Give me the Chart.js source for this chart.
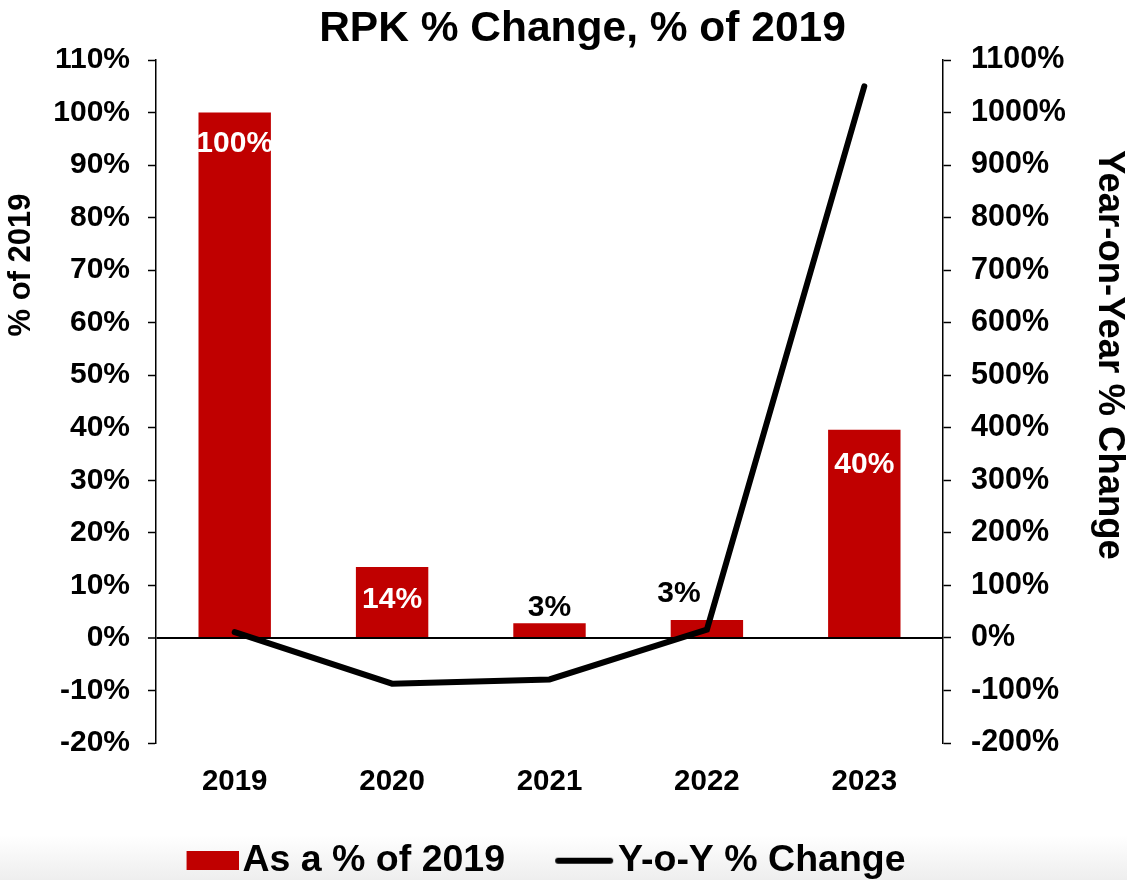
<!DOCTYPE html>
<html>
<head>
<meta charset="utf-8">
<script src="https://cdn.jsdelivr.net/npm/chart.js@4.4.1/dist/chart.umd.min.js"></script>
<style>
  html, body { margin: 0; padding: 0; }
  body { width: 1127px; height: 880px; background: linear-gradient(to bottom, #ffffff 0px, #ffffff 835px, #eeeeee 880px); overflow: hidden; }
  #wrap { position: relative; width: 1127px; height: 880px; }
</style>
</head>
<body>
<div id="wrap"><canvas id="c" width="1127" height="880"></canvas></div>
<script>
// ---- Data ----
const categories = ['2019', '2020', '2021', '2022', '2023'];
const pctOf2019 = [100, 13.5, 2.8, 3.4, 39.6];       // As a % of 2019 (left axis)
const yoyChange = [11, -87, -79, 16, 1050];          // Y-o-Y % Change (right axis)
const leftAxisRange = [-20, 110];
const rightAxisRange = [-200, 1100];
const seriesNames = ['As a % of 2019', 'Y-o-Y % Change'];
const chartTitle = 'RPK % Change, % of 2019';
const leftAxisTitle = '% of 2019';
const rightAxisTitle = 'Year-on-Year % Change';

const FONT = "'Liberation Sans', Arial, Helvetica, sans-serif";
const BAR_COLOR = '#C00000';

// label placement style for each bar (style only, not data)
const barLabelStyle = [
  { color: '#ffffff', dy: 31, dx: 0 },
  { color: '#ffffff', dy: 33, dx: 0 },
  { color: '#000000', dy: -15, dx: 0 },
  { color: '#000000', dy: -26, dx: -28 },
  { color: '#ffffff', dy: 35, dx: 0 }
];

// legend marker images (content sits at right side so it hugs the text)
function makeMarker(w, h, draw) {
  const c = document.createElement('canvas');
  c.width = w; c.height = h;
  draw(c.getContext('2d'), w, h);
  return c;
}
const barMarker = makeMarker(82, 19, (g, w, h) => { g.fillStyle = BAR_COLOR; g.fillRect(30, 0, 52, h); });
const lineMarker = makeMarker(82, 8, (g, w, h) => {
  g.strokeStyle = '#000'; g.lineWidth = 6; g.lineCap = 'round';
  g.beginPath(); g.moveTo(26, h / 2); g.lineTo(78, h / 2); g.stroke();
});

const barLabels = {
  id: 'barLabels',
  afterDatasetsDraw(chart) {
    const meta = chart.getDatasetMeta(0);
    const ctx = chart.ctx;
    ctx.save();
    ctx.font = 'bold 30px ' + FONT;
    ctx.textAlign = 'center';
    ctx.textBaseline = 'middle';
    meta.data.forEach((el, i) => {
      const st = barLabelStyle[i];
      ctx.fillStyle = st.color;
      ctx.fillText(Math.round(pctOf2019[i]) + '%', el.x + st.dx, el.y + st.dy);
    });
    ctx.restore();
  }
};

const titles = {
  id: 'titles',
  afterDraw(chart) {
    const ctx = chart.ctx;
    ctx.save();
    ctx.fillStyle = '#000';
    // chart title
    ctx.font = 'bold 42.5px ' + FONT;
    ctx.textAlign = 'center';
    ctx.textBaseline = 'alphabetic';
    ctx.fillText(chartTitle, 582.5, 41);
    ctx.textBaseline = 'middle';
    // left axis title
    ctx.font = 'bold 31px ' + FONT;
    ctx.save();
    ctx.translate(21, 265);
    ctx.rotate(-Math.PI / 2);
    ctx.fillText(leftAxisTitle, 0, 0);
    ctx.restore();
    // right axis title
    ctx.font = 'bold 36.5px ' + FONT;
    ctx.save();
    ctx.translate(1109, 355);
    ctx.rotate(Math.PI / 2);
    ctx.fillText(rightAxisTitle, 0, 0);
    ctx.restore();
    ctx.restore();
  }
};

const legendPad = 42;
const legendFont = 37.5;
const legendTop = 800;
const padLeft = -50;

new Chart(document.getElementById('c'), {
  data: {
    labels: categories,
    datasets: [
      {
        type: 'bar',
        label: seriesNames[0],
        data: pctOf2019,
        backgroundColor: BAR_COLOR,
        borderWidth: 0,
        yAxisID: 'y',
        barPercentage: 0.46,
        categoryPercentage: 1.0,
        order: 2
      },
      {
        type: 'line',
        label: seriesNames[1],
        data: yoyChange,
        borderColor: '#000000',
        backgroundColor: '#000000',
        borderWidth: 6,
        borderCapStyle: 'round',
        borderJoinStyle: 'miter',
        pointRadius: 0,
        tension: 0,
        yAxisID: 'y1',
        order: 1
      }
    ]
  },
  options: {
    responsive: false,
    animation: false,
    layout: { padding: { left: padLeft, right: 0, top: 60, bottom: 880 - (legendTop + legendFont + legendPad + 10) } },
    plugins: {
      title: { display: false },
      legend: {
        display: true,
        position: 'bottom',
        labels: {
          color: '#000',
          font: { family: FONT, size: legendFont, weight: 'bold' },
          usePointStyle: true,
          pointStyleWidth: 52.25,
          boxHeight: 19,
          padding: legendPad,
          generateLabels(chart) {
            return chart.data.datasets.map((ds, i) => ({
              text: ds.label,
              datasetIndex: i,
              fillStyle: i === 0 ? BAR_COLOR : '#000',
              strokeStyle: i === 0 ? BAR_COLOR : '#000',
              lineWidth: 0,
              pointStyle: i === 0 ? barMarker : lineMarker,
              hidden: false,
              fontColor: '#000'
            }));
          }
        }
      },
      tooltip: { enabled: false }
    },
    scales: {
      x: {
        type: 'category',
        offset: true,
        grid: { display: false, drawTicks: false },
        border: { display: false },
        ticks: {
          color: '#000',
          font: { family: FONT, size: 29.5, weight: 'bold' },
          padding: 21,
          maxRotation: 0
        },
        afterFit(scale) { scale.height = legendTop - 743; }
      },
      y: {
        type: 'linear',
        position: 'left',
        min: leftAxisRange[0],
        max: leftAxisRange[1],
        ticks: {
          stepSize: 10,
          color: '#000',
          font: { family: FONT, size: 30, weight: 'bold' },
          padding: 18,
          callback: v => v + '%'
        },
        grid: {
          drawOnChartArea: true,
          color: c => (c.tick && c.tick.value === 0) ? '#000' : 'rgba(0,0,0,0)',
          lineWidth: c => (c.tick && c.tick.value === 0) ? 2 : 1,
          tickColor: '#000',
          tickLength: 8,
          tickWidth: 1.5
        },
        border: { display: true, color: '#000', width: 1.5 },
        afterFit(scale) { scale.width = 156 - padLeft; }
      },
      y1: {
        type: 'linear',
        position: 'right',
        min: rightAxisRange[0],
        max: rightAxisRange[1],
        ticks: {
          stepSize: 100,
          color: '#000',
          font: { family: FONT, size: 30.5, weight: 'bold' },
          padding: 20,
          callback: v => v + '%'
        },
        grid: {
          drawOnChartArea: false,
          tickColor: '#000',
          tickLength: 8,
          tickWidth: 1.5
        },
        border: { display: true, color: '#000', width: 1.5 },
        afterFit(scale) { scale.width = 1127 - 943; }
      }
    }
  },
  plugins: [barLabels, titles]
});
</script>
</body>
</html>
